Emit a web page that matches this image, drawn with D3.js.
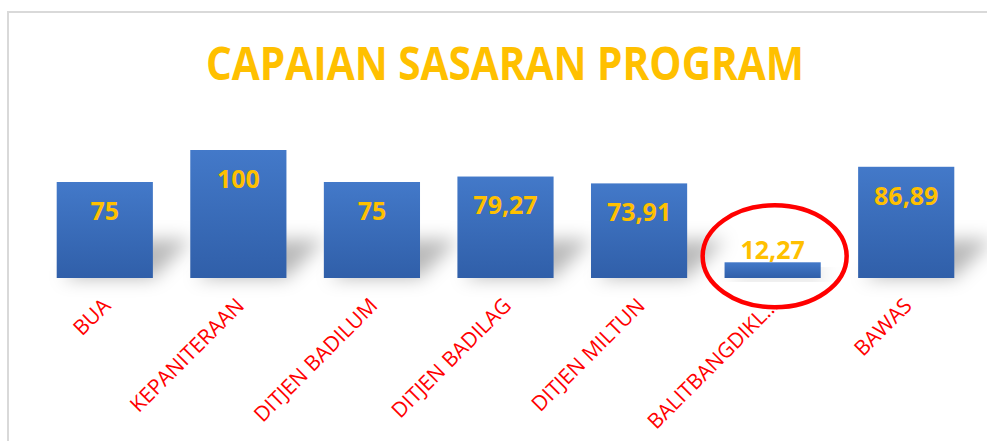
<!DOCTYPE html>
<html>
<head>
<meta charset="utf-8">
<script src="https://cdn.jsdelivr.net/npm/d3@7"></script>
<style>
  body { margin: 0; background: #fff; }
  svg { display: block; }
</style>
</head>
<body>
<div id="chart"></div>
<script>
// data
const categories = ['BUA', 'KEPANITERAAN', 'DITJEN BADILUM', 'DITJEN BADILAG', 'DITJEN MILTUN', 'BALITBANGDIKL\u2026', 'BAWAS'];
const values = [75, 100, 75, 79.27, 73.91, 12.27, 86.89];
const valueLabels = ['75', '100', '75', '79,27', '73,91', '12,27', '86,89'];
const highlighted = ['BALITBANGDIKL\u2026'];

const width = 987;
const height = 441;
const baseline = 278;

const svg = d3.select('#chart')
  .append('svg')
    .attr('width', width)
    .attr('height', height);

const defs = svg.append('defs');

const grad = defs.append('linearGradient')
    .attr('id', 'barGrad')
    .attr('x1', 0).attr('y1', 0)
    .attr('x2', 0).attr('y2', 1);
grad.append('stop').attr('offset', '0%').attr('stop-color', '#4379C9');
grad.append('stop').attr('offset', '100%').attr('stop-color', '#305FA9');

const blur = defs.append('filter')
    .attr('id', 'shadowBlur')
    .attr('x', '-60%').attr('y', '-60%')
    .attr('width', '220%').attr('height', '220%');
blur.append('feGaussianBlur').attr('stdDeviation', 9);

// chart frame
svg.append('rect')
    .attr('x', 8)
    .attr('y', 12)
    .attr('width', 1000)
    .attr('height', 500)
    .attr('fill', 'none')
    .attr('stroke', '#D9D9D9')
    .attr('stroke-width', 2);

svg.append('text')
    .attr('x', 505)
    .attr('y', 80)
    .attr('text-anchor', 'middle')
    .attr('font-family', 'Open Sans, sans-serif')
    .attr('font-weight', 700)
    .attr('font-size', 46)
    .attr('textLength', 598)
    .attr('lengthAdjust', 'spacingAndGlyphs')
    .attr('fill', '#FFC000')
    .text('CAPAIAN SASARAN PROGRAM');

const x = d3.scaleBand()
    .domain(categories)
    .range([38, 973])
    .paddingInner(0.28)
    .paddingOuter(0.14);

const y = d3.scaleLinear()
    .domain([0, 100])
    .range([baseline, 150]);

const data = categories.map((c, i) => ({cat: c, value: values[i], label: valueLabels[i]}));

// soft perspective shadows
svg.append('g')
  .selectAll('path')
  .data(data)
  .join('path')
    .attr('filter', 'url(#shadowBlur)')
    .attr('fill', '#000')
    .attr('fill-opacity', 0.28)
    .attr('d', d => {
      const x0 = x(d.cat) + 6, x1 = x(d.cat) + x.bandwidth();
      const h = Math.min(baseline - y(d.value), 96) * 0.4;
      return `M${x0},${baseline}L${x1},${baseline}L${x1 + h},${baseline - h}L${x0 + h},${baseline - h}Z`;
    });

svg.append('g')
  .selectAll('rect')
  .data(data)
  .join('rect')
    .attr('x', d => x(d.cat))
    .attr('y', d => y(d.value))
    .attr('width', x.bandwidth())
    .attr('height', d => baseline - y(d.value))
    .attr('fill', 'url(#barGrad)');

svg.append('g')
  .selectAll('text')
  .data(data)
  .join('text')
    .attr('x', d => x(d.cat) + x.bandwidth() / 2)
    .attr('y', d => Math.min(y(d.value) + 29, baseline - 28))
    .attr('dy', '0.35em')
    .attr('text-anchor', 'middle')
    .attr('font-family', 'Open Sans, sans-serif')
    .attr('font-weight', 700)
    .attr('font-size', 25)
    .attr('fill', '#FFC000')
    .text(d => d.label);

// category labels, rotated
svg.append('g')
  .selectAll('text')
  .data(categories)
  .join('text')
    .attr('transform', d => `translate(${x(d) + x.bandwidth() / 2 + 7},${baseline + 29}) rotate(-45)`)
    .attr('text-anchor', 'end')
    .attr('font-family', 'Open Sans, sans-serif')
    .attr('font-size', 21)
    .attr('fill', '#FF0000')
    .text(d => d);

// red ring round the low bar
const hl = data.filter(d => highlighted.includes(d.cat));
svg.append('g')
  .selectAll('ellipse')
  .data(hl)
  .join('ellipse')
    .attr('cx', d => x(d.cat) + x.bandwidth() / 2 + 2)
    .attr('cy', d => y(d.value) - 6)
    .attr('rx', 72)
    .attr('ry', 51)
    .attr('fill', 'none')
    .attr('stroke', '#FF0000')
    .attr('stroke-width', 4.5);
</script>
</body>
</html>
